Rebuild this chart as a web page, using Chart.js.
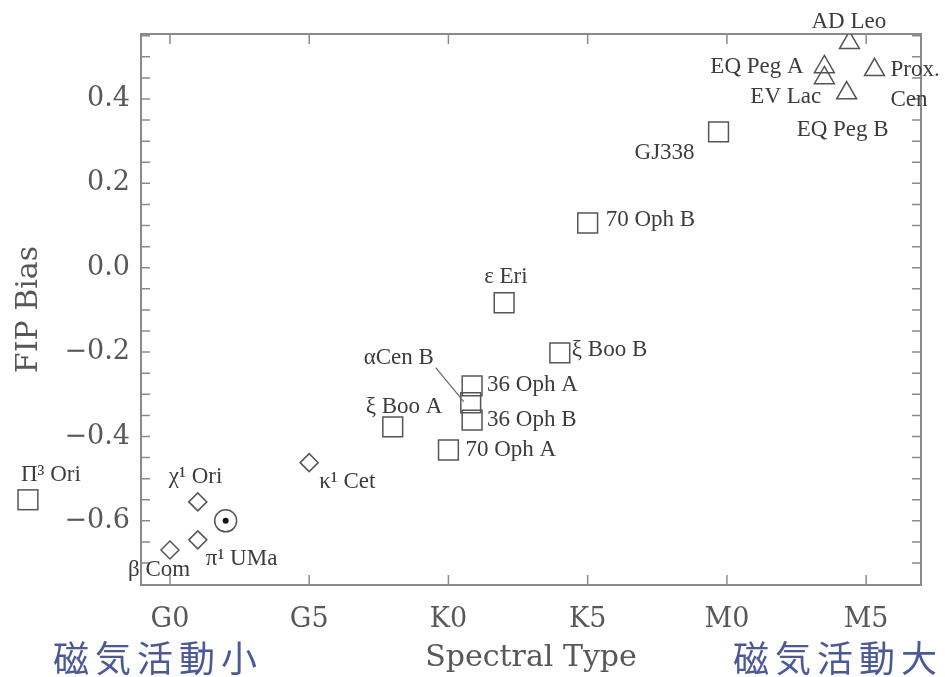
<!DOCTYPE html>
<html lang="ja">
<head>
  <meta charset="UTF-8" />
  <title>FIP Bias vs Spectral Type</title>
  <script src="https://cdn.jsdelivr.net/npm/chart.js"></script>
  <style>
    html, body { margin: 0; padding: 0; background: #fff; }
    canvas { display: block; }
  </style>
</head>
<body>
<canvas id="fipChart" width="945" height="677"></canvas>

<script>
// spectral type on a running scale: G0 = 0, G5 = 5, K0 = 10, K5 = 15, M0 = 20, M5 = 25
const xTickValues = [0, 5, 10, 15, 20, 25];
const xTickLabels = ["G0", "G5", "K0", "K5", "M0", "M5"];
const yTickValues = [-0.6, -0.4, -0.2, 0.0, 0.2, 0.4];

// squares
const squareNames = ["ξ Boo A", "70 Oph A", "αCen B", "36 Oph A", "36 Oph B", "ε Eri", "ξ Boo B", "70 Oph B", "GJ338"];
const squareX = [8, 10, 10.8, 10.85, 10.85, 12, 14, 15, 19.7];
const squareY = [-0.377, -0.432, -0.32, -0.28, -0.361, -0.083, -0.202, 0.106, 0.322];

// diamonds
const diamondNames = ["β Com", "χ¹ Ori", "π¹ UMa", "κ¹ Cet"];
const diamondX = [0, 1, 1, 5];
const diamondY = [-0.669, -0.555, -0.645, -0.462];

// triangles
const triangleNames = ["EQ Peg A", "EV Lac", "EQ Peg B", "AD Leo", "Prox. Cen"];
const triangleX = [23.5, 23.5, 24.3, 24.4, 25.3];
const triangleY = [0.476, 0.45, 0.414, 0.533, 0.469];

// the Sun
const sunNames = [""];
const sunX = [2];
const sunY = [-0.6];

// Π³ Ori is plotted left of the frame
const offAxisNames = ["Π³ Ori"];
const offAxisX = [-5.1];
const offAxisY = [-0.55];

// where each name goes, relative to its marker (px)
const labelLayout = {
  "Π³ Ori":   { dx: -7,   dy: -25 },
  "χ¹ Ori":   { dx: -29,  dy: -25 },
  "π¹ UMa":   { dx: 8,    dy: 19 },
  "β Com":    { dx: -42,  dy: 20 },
  "κ¹ Cet":   { dx: 10,   dy: 19 },
  "ξ Boo A":  { dx: -27,  dy: -20 },
  "70 Oph A": { dx: 17,   dy: 0 },
  "αCen B":   { dx: -107, dy: -45, line: [-35, -35, -7, -1] },
  "36 Oph A": { dx: 15,   dy: -1 },
  "36 Oph B": { dx: 15,   dy: 0 },
  "ε Eri":    { dx: -20,  dy: -26 },
  "ξ Boo B":  { dx: 12,   dy: -3 },
  "70 Oph B": { dx: 18,   dy: -3 },
  "GJ338":    { dx: -84,  dy: 21 },
  "AD Leo":   { dx: -38,  dy: -21 },
  "EQ Peg A": { dx: -114, dy: 0 },
  "EV Lac":   { dx: -74,  dy: 19 },
  "EQ Peg B": { dx: -50,  dy: 37 },
  "Prox. Cen": { dx: 16,  dy: 0, lines: ["Prox.", "Cen"], lineGap: 30 }
};

const markColor = "#555";
const axisColor = "#8a8a8a";
const axisText = "#585858";
const labelText = "#3c3c3c";

const toPoints = (xs, ys) => xs.map((x, i) => ({ x: x, y: ys[i] }));

function markerSet(names, xs, ys, style, radius) {
  return {
    data: toPoints(xs, ys),
    names: names,
    showLine: false,
    pointStyle: style,
    pointRadius: radius,
    pointHoverRadius: radius,
    pointBorderColor: markColor,
    pointBorderWidth: 1.5,
    pointBackgroundColor: "rgba(0,0,0,0)"
  };
}

const sunRing = markerSet(sunNames, sunX, sunY, "circle", 11);
const sunDot = markerSet([], sunX, sunY, "circle", 3);
sunDot.pointBackgroundColor = "#111";
sunDot.pointBorderColor = "#111";
sunDot.pointBorderWidth = 0;

const offAxis = markerSet(offAxisNames, offAxisX, offAxisY, "rect", 14);
offAxis.offAxis = true;

// frame with inward ticks on all four sides
const framePlugin = {
  id: "frame",
  beforeDatasetsDraw(chart) {
    const { ctx, chartArea: a, scales: { x, y } } = chart;
    ctx.save();
    ctx.strokeStyle = axisColor;
    ctx.lineWidth = 2;
    ctx.strokeRect(a.left, a.top, a.right - a.left, a.bottom - a.top);
    ctx.lineWidth = 1.5;
    ctx.beginPath();
    xTickValues.forEach(v => {
      const px = x.getPixelForValue(v);
      ctx.moveTo(px, a.bottom); ctx.lineTo(px, a.bottom - 10);
      ctx.moveTo(px, a.top); ctx.lineTo(px, a.top + 10);
    });
    for (let k = -14; k <= 11; k++) {
      const py = y.getPixelForValue(k * 0.05);
      if (py <= a.top + 1 || py >= a.bottom - 1) continue;
      ctx.moveTo(a.left, py); ctx.lineTo(a.left + 9, py);
      ctx.moveTo(a.right, py); ctx.lineTo(a.right - 9, py);
    }
    ctx.stroke();
    ctx.restore();
  }
};

// names next to the markers, plus the off-frame marker
const labelPlugin = {
  id: "starLabels",
  afterDatasetsDraw(chart) {
    const { ctx, scales: { x, y } } = chart;
    ctx.save();
    chart.data.datasets.forEach(ds => {
      if (ds.offAxis) {
        ds.data.forEach(p => {
          const s = Math.SQRT1_2 * ds.pointRadius;
          ctx.strokeStyle = markColor;
          ctx.lineWidth = 1.5;
          ctx.strokeRect(x.getPixelForValue(p.x) - s, y.getPixelForValue(p.y) - s, 2 * s, 2 * s);
        });
      }
      (ds.names || []).forEach((name, i) => {
        const lay = labelLayout[name];
        if (!lay) return;
        const px = x.getPixelForValue(ds.data[i].x);
        const py = y.getPixelForValue(ds.data[i].y);
        ctx.font = "23px 'Liberation Serif'";
        ctx.fillStyle = labelText;
        ctx.textAlign = "left";
        ctx.textBaseline = "middle";
        const lines = lay.lines || [name];
        lines.forEach((t, k) => ctx.fillText(t, px + lay.dx, py + lay.dy + k * (lay.lineGap || 0)));
        if (lay.line) {
          ctx.strokeStyle = "#666";
          ctx.lineWidth = 1.2;
          ctx.beginPath();
          ctx.moveTo(px + lay.line[0], py + lay.line[1]);
          ctx.lineTo(px + lay.line[2], py + lay.line[3]);
          ctx.stroke();
        }
      });
    });
    ctx.restore();
  },
  afterDraw(chart) {
    const ctx = chart.ctx;
    ctx.save();
    ctx.font = "36px 'Noto Sans CJK JP'";
    ctx.fillStyle = "#4b5a97";
    ctx.textAlign = "center";
    ctx.textBaseline = "middle";
    ctx.letterSpacing = "6px";
    ctx.fillText("磁気活動小", 158, 658);
    ctx.fillText("磁気活動大", 838, 658);
    ctx.restore();
  }
};

new Chart(document.getElementById("fipChart").getContext("2d"), {
  type: "scatter",
  data: {
    datasets: [
      markerSet(squareNames, squareX, squareY, "rect", 14),
      markerSet(diamondNames, diamondX, diamondY, "rectRot", 9),
      markerSet(triangleNames, triangleX, triangleY, "triangle", 11.5),
      sunRing,
      sunDot,
      offAxis
    ]
  },
  options: {
    responsive: false,
    animation: false,
    events: [],
    layout: { padding: { top: 34, right: 24, left: 0, bottom: 0 } },
    plugins: {
      legend: { display: false },
      tooltip: { enabled: false }
    },
    scales: {
      x: {
        type: "linear",
        min: -1.04,
        max: 26.97,
        afterBuildTicks: s => { s.ticks = xTickValues.map(v => ({ value: v })); },
        afterFit: s => { s.height = 92; },
        grid: { display: false, drawTicks: false },
        border: { display: false },
        ticks: {
          padding: 19,
          autoSkip: false,
          maxRotation: 0,
          color: axisText,
          font: { family: "DejaVu Serif", size: 27 },
          callback: v => xTickLabels[xTickValues.indexOf(v)]
        },
        title: {
          display: true,
          text: "Spectral Type",
          color: axisText,
          font: { family: "DejaVu Serif", size: 30 },
          padding: { top: 0, bottom: 1 }
        }
      },
      y: {
        type: "linear",
        min: -0.752,
        max: 0.554,
        afterBuildTicks: s => { s.ticks = yTickValues.map(v => ({ value: v })); },
        afterFit: s => { s.width = 141; },
        grid: { display: false, drawTicks: false },
        border: { display: false },
        ticks: {
          padding: 11,
          color: axisText,
          font: { family: "DejaVu Serif", size: 27 },
          callback: v => (v < -1e-9 ? "\u2212" : "") + Math.abs(v).toFixed(1)
        },
        title: {
          display: true,
          text: "FIP Bias",
          color: axisText,
          font: { family: "DejaVu Serif", size: 30 },
          padding: { top: 11, bottom: 0 }
        }
      }
    }
  },
  plugins: [framePlugin, labelPlugin]
});
</script>
</body>
</html>
